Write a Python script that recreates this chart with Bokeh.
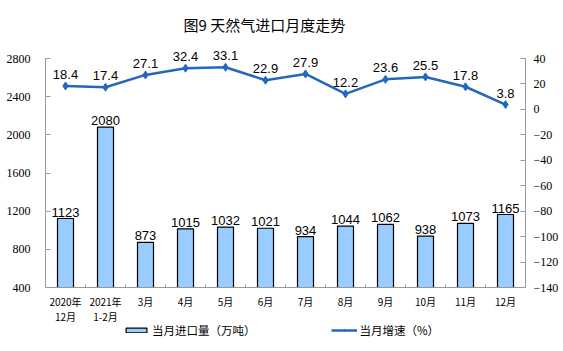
import math
from bokeh.plotting import figure
from bokeh.models import (Range1d, LinearAxis, FixedTicker, ColumnDataSource,
                          Legend, LegendItem, LabelSet, Span)
from bokeh.core.properties import value
from bokeh.embed import file_html
from bokeh.resources import INLINE

categories = ["2020年\n12月", "2021年\n1-2月", "3月", "4月", "5月", "6月",
              "7月", "8月", "9月", "10月", "11月", "12月"]
import_volume = [1123, 2080, 873, 1015, 1032, 1021, 934, 1044, 1062, 938, 1073, 1165]
growth_rate = [18.4, 17.4, 27.1, 32.4, 33.1, 22.9, 27.9, 12.2, 23.6, 25.5, 17.8, 3.8]
left_ticks = [400, 800, 1200, 1600, 2000, 2400, 2800]
right_ticks = [-140, -120, -100, -80, -60, -40, -20, 0, 20, 40]

n = len(categories)
xs = list(range(1, n + 1))
src = ColumnDataSource(dict(
    x=xs, vol=import_volume, rate=growth_rate, cat=categories,
    base=[left_ticks[0]] * n,
    vol_txt=[str(v) for v in import_volume],
    rate_txt=[f"{v:.1f}" for v in growth_rate],
))
bounds_src = ColumnDataSource(dict(
    x=[i + 0.5 for i in range(0, n + 1)], y=[left_ticks[0]] * (n + 1)))

CJK = "Noto Sans CJK SC"
AX = "#999999"

# layout in pixels: axes span 229 px; frame extends 22 px above and 64 px below
AXIS_PX, TOP_PAD, BOT_PAD = 229, 22, 64
l0, l1 = left_ticks[0], left_ticks[-1]
r0, r1 = right_ticks[0], right_ticks[-1]
lk = (l1 - l0) / AXIS_PX
rk = (r1 - r0) / AXIS_PX

p = figure(frame_width=480, frame_height=AXIS_PX + TOP_PAD + BOT_PAD,
           output_backend="svg", toolbar_location=None, x_axis_location=None,
           x_range=Range1d(0.5, n + 0.5),
           y_range=Range1d(l0 - BOT_PAD * lk, l1 + TOP_PAD * lk),
           min_border_left=45, min_border_right=38, min_border_top=36,
           min_border_bottom=0)
p.extra_y_ranges = {"rate": Range1d(r0 - BOT_PAD * rk, r1 + TOP_PAD * rk)}
p.outline_line_color = None
p.grid.visible = False
p.background_fill_color = "white"

p.title.text = "图9  天然气进口月度走势"
p.title.align = "left"
p.title.offset = 138
p.title.text_font = CJK
p.title.text_font_size = "15px"
p.title.text_font_style = "normal"
p.title.text_color = "black"
p.title.standoff = 4

# left axis
ya = p.yaxis[0]
ya.ticker = FixedTicker(ticks=left_ticks)
ya.bounds = (l0, l1)
ya.axis_line_color = AX
ya.major_tick_line_color = AX
ya.major_tick_in = 5
ya.major_tick_out = 0
ya.minor_tick_line_color = None
ya.major_label_text_font = "Liberation Serif"
ya.major_label_text_font_size = "12px"
ya.major_label_text_color = "black"
ya.major_label_standoff = 15

# right axis
ra = LinearAxis(y_range_name="rate", ticker=FixedTicker(ticks=right_ticks), bounds=(r0, r1))
ra.axis_line_color = AX
ra.major_tick_line_color = AX
ra.major_tick_in = 5
ra.major_tick_out = 0
ra.minor_tick_line_color = None
ra.major_label_text_font = "Liberation Serif"
ra.major_label_text_font_size = "12px"
ra.major_label_text_color = "black"
ra.major_label_standoff = 8
p.add_layout(ra, "right")

# category axis: baseline, boundary ticks, labels
p.add_layout(Span(location=l0, dimension="width", line_color=AX, line_width=1))
p.ray(x="x", y="y", source=bounds_src, length=3, length_units="screen",
      angle=math.pi / 2, line_color=AX, line_width=1)
p.text(x="x", y="base", text="cat", source=src, text_align="center",
       text_baseline="top", y_offset=6, text_font=value(CJK),
       text_font_size="10px", text_line_height=1.0, text_color="black")

bars = p.vbar(x="x", top="vol", bottom=l0, width=0.4, source=src,
              fill_color="#99CCFF", line_color="black", line_width=1.2)
line = p.line(x="x", y="rate", source=src, y_range_name="rate",
              line_color="#2468BE", line_width=2.5)
pts = p.scatter(x="x", y="rate", source=src, y_range_name="rate", marker="diamond",
                size=8, fill_color="#2468BE", line_color="#2468BE")

p.add_layout(LabelSet(x="x", y="vol", text="vol_txt", source=src, text_align="center",
                      text_baseline="bottom", y_offset=2, text_font=value("Liberation Sans"),
                      text_font_size="13px", text_color="black"))
p.add_layout(LabelSet(x="x", y="rate", text="rate_txt", source=src, y_range_name="rate",
                      text_align="center", text_baseline="bottom", y_offset=7,
                      text_font=value("Liberation Sans"), text_font_size="13px",
                      text_color="black"))

legend = Legend(items=[
    LegendItem(label="当月进口量（万吨）", renderers=[bars]),
    LegendItem(label="当月增速（%）", renderers=[line, pts]),
], orientation="horizontal", location=(78, 13), spacing=75, padding=0,
    glyph_width=26, glyph_height=6, label_standoff=3,
    label_text_font=CJK, label_text_font_size="11.5px", label_text_color="black",
    border_line_color=None, background_fill_alpha=0, margin=0)
p.add_layout(legend, "center")

open("out.html", "w").write(file_html(p, INLINE))
